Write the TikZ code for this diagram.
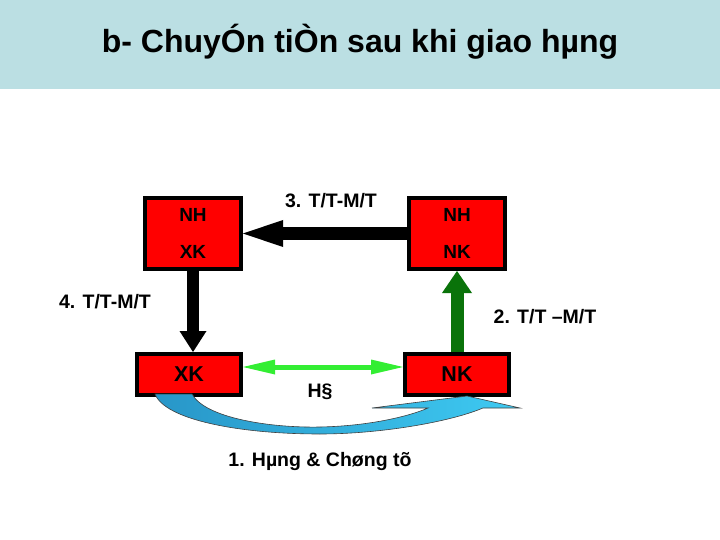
\documentclass[tikz,border=0pt]{standalone}
\usepackage{fontspec}
\setmainfont{Liberation Sans}
\usepackage{tikz}
\usetikzlibrary{arrows.meta,calc}
\definecolor{band}{RGB}{187,223,227}
\definecolor{boxred}{RGB}{255,0,0}
\definecolor{darkgrn}{RGB}{10,115,10}
\definecolor{litegrn}{RGB}{51,238,51}
\definecolor{bluedk}{RGB}{40,150,200}
\definecolor{bluelt}{RGB}{62,202,242}

\begin{document}
\begin{tikzpicture}[x=1pt, y=-1pt,
  box/.style={draw=black, fill=boxred, line width=4pt, inner sep=0pt, align=center,
    minimum width=96pt, minimum height=71pt, font=\fontsize{19}{37}\selectfont\bfseries},
  lowbox/.style={box, minimum width=104pt, minimum height=41pt, font=\fontsize{21.5}{26}\selectfont\bfseries},
  lbl/.style={font=\fontsize{19.5}{24}\selectfont\bfseries, inner sep=0pt},
  blk/.style={draw=black, line width=13pt, -{Triangle[length=40pt, width=27pt, line width=0pt]}},
  blkdown/.style={draw=black, line width=12pt, -{Triangle[length=21pt, width=27pt, line width=0pt]}},
  grnup/.style={draw=darkgrn, line width=13pt, -{Triangle[length=22pt, width=30pt, line width=0pt]}},
  both/.style={draw=litegrn, line width=5pt, {Triangle[length=32pt, width=15pt, line width=0pt]}-{Triangle[length=32pt, width=15pt, line width=0pt]}}]
\useasboundingbox (0,0) rectangle (720,540);
\fill[band] (0,0) rectangle (720,89);
\node[font=\fontsize{32}{38}\selectfont\bfseries] (title) at (360,42) {b- ChuyÓn tiÒn sau khi giao hµng};
% boxes
\node[box] (tl) at (193,233.5) {NH\\XK};
\node[box] (tr) at (457,233.5) {NH\\NK};
\node[lowbox] (bl) at (189,374.5) {XK};
\node[lowbox] (br) at (457,374.5) {NK};
% curved transfer of goods and documents
\draw[line width=0.6pt, draw=black!75, left color=bluedk, right color=bluelt]
  (155,394) -- (192,394) .. controls (205,418) and (270,428) .. (320,427)
  .. controls (370,426) and (410,416) .. (428,408) -- (372,408) -- (467,396) -- (520,408) -- (483,408)
  .. controls (450,422) and (380,434) .. (320,434) .. controls (240,434) and (165,420) .. (155,394) -- cycle;
% payment flows
\draw[blk] (tr.west) -- (tl.east);
\draw[blkdown] (tl.south) -- (tl.south |- bl.north);
\draw[grnup] (br.north) -- (br.north |- tr.south);
\draw[both] ([yshift=7.5pt]bl.east) -- ([yshift=7.5pt]br.west);
% labels
\node[lbl] (l3) at (331,201) {3. T/T-M/T};
\node[lbl] (l4) at (105,302) {4. T/T-M/T};
\node[lbl] (l2) at (545,317) {2. T/T –M/T};
\node[lbl] (lh) at (320,392) {H§};
\node[lbl] (l1) at (320,461) {1. Hµng \& Chøng tõ};
\end{tikzpicture}
\end{document}
